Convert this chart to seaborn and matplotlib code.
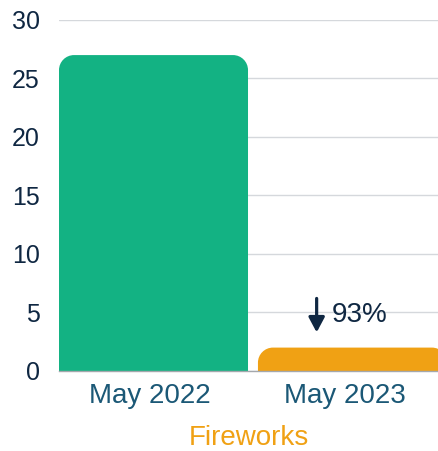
import matplotlib
matplotlib.use("Agg")
import matplotlib.pyplot as plt
import matplotlib.transforms as mtransforms
from matplotlib.path import Path
from matplotlib.patches import PathPatch
import seaborn as sns
import pandas as pd

# values
periods = ['May 2022', 'May 2023']
counts = [27, 2]
bar_colors = ['#13B283', '#F0A114']
change_label = '93%'
y_ticks = [0, 5, 10, 15, 20, 25, 30]

df = pd.DataFrame({'period': periods, 'count': counts})

sns.set_theme(style="white")
plt.rcParams['font.family'] = ['Liberation Sans', 'DejaVu Sans']

navy = '#0F2742'
teal_text = '#1B5876'

fig = plt.figure(figsize=(4.39, 4.51), dpi=100)
ax = fig.add_axes([0.1344, 0.1774, 0.8656, 0.7783])

sns.barplot(data=df, x='period', y='count', hue='period', palette=bar_colors,
            width=0.95, legend=False, ax=ax, saturation=1)

ax.set_ylim(0, 30)
ax.set_xlim(-0.475, 1.435)
ax.set_yticks(y_ticks)
ax.yaxis.grid(True, color='#d5d8dc', lw=1)
ax.set_axisbelow(True)
for s in ['top', 'right', 'left']:
    ax.spines[s].set_visible(False)
ax.spines['bottom'].set_color('#a4a8ad')
ax.spines['bottom'].set_linewidth(1)
ax.tick_params(axis='y', length=0, pad=14, labelsize=18, labelcolor=navy)
ax.tick_params(axis='x', length=0, pad=8.5, labelsize=20, labelcolor=teal_text)
ax.set_ylabel('')
ax.set_xlabel('Fireworks', fontsize=20, color='#F0A114', labelpad=11.5)

# labels in the reference sit a little left of the bar centres
for lbl, dx in zip(ax.get_xticklabels(), [-3.5, -8]):
    lbl.set_transform(lbl.get_transform() +
                      mtransforms.ScaledTranslation(dx / 100, 0, fig.dpi_scale_trans))

# replace the plain bars with top-rounded ones (radius ~15 px)
p0 = ax.transData.transform((0, 0))
p1 = ax.transData.transform((1, 1))
rx = 15 / (p1[0] - p0[0])
ry = 15 / (p1[1] - p0[1])
k = 0.5523
for bar in list(ax.patches):
    x0, w, h = bar.get_x(), bar.get_width(), bar.get_height()
    x1 = x0 + w
    verts = [(x0, 0), (x0, h - ry),
             (x0, h - ry + k * ry), (x0 + rx - k * rx, h), (x0 + rx, h),
             (x1 - rx, h),
             (x1 - rx + k * rx, h), (x1, h - ry + k * ry), (x1, h - ry),
             (x1, 0), (x0, 0)]
    codes = [Path.MOVETO, Path.LINETO,
             Path.CURVE4, Path.CURVE4, Path.CURVE4,
             Path.LINETO,
             Path.CURVE4, Path.CURVE4, Path.CURVE4,
             Path.LINETO, Path.CLOSEPOLY]
    ax.add_patch(PathPatch(Path(verts, codes), facecolor=bar.get_facecolor(),
                           edgecolor='none', zorder=2))
    bar.set_visible(False)

# change annotation above the second bar
ax.annotate('', xy=(0.82, 3.3), xytext=(0.82, 6.2),
            arrowprops=dict(arrowstyle='-|>,head_length=0.75,head_width=0.4',
                            lw=2.3, color=navy, shrinkA=0, shrinkB=0))
ax.text(0.897, 4.8, change_label, fontsize=20, color=navy, ha='left', va='center')

fig.savefig('out.png', dpi=100)
